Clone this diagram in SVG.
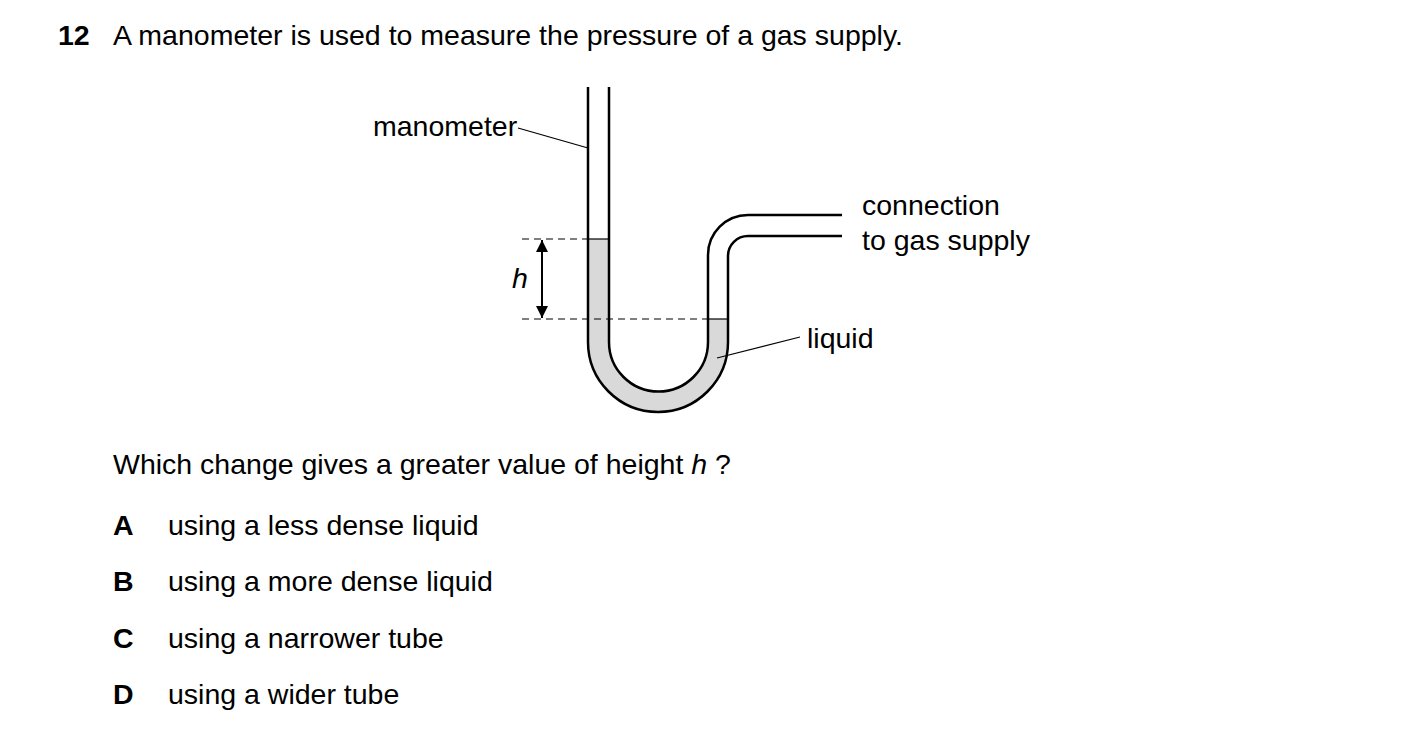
<svg xmlns="http://www.w3.org/2000/svg" width="1403" height="756" viewBox="0 0 1403 756">
<style>
text{font-family:"Liberation Sans",Arial,sans-serif;font-size:28.5px;fill:#000}
.lb{font-size:28.5px}
.b{font-weight:bold}
.t{fill:none;stroke:#000;stroke-width:2.5}
.th{fill:none;stroke:#000;stroke-width:1.2}
.d{fill:none;stroke:#000;stroke-width:1.2;stroke-dasharray:7,5}
</style>
<defs><marker id="ah" viewBox="0 0 10 10" refX="10" refY="5" markerWidth="16" markerHeight="12" orient="auto" markerUnits="userSpaceOnUse"><path d="M0,0L10,5L0,10z"/></marker></defs>
<rect width="1403" height="756" fill="#fff"/>
<text x="58" y="45" class="b">12</text>
<text x="113" y="45">A manometer is used to measure the pressure of a gas supply.</text>
<g id="manometer">
<path d="M588,239 L588,342 A70,70 0 0 0 728,342 L728,319 L708,319 L708,342 A49.5,49.5 0 0 1 609,342 L609,239 Z" fill="#d9d9d9"/>
<path class="t" d="M588,87 L588,342 A70,70 0 0 0 728,342 L728,256 A20,20 0 0 1 748,236 L842,236"/>
<path class="t" d="M609,87 L609,342 A49.5,49.5 0 0 0 708,342 L708,255 A40,40 0 0 1 748,215 L842,215"/>
<line class="th" x1="588" y1="239" x2="609" y2="239"/>
<line class="th" x1="708" y1="319" x2="728" y2="319"/>
</g>
<g id="connectors">
<line class="d" x1="522" y1="239" x2="588" y2="239"/>
<line class="d" x1="522" y1="319" x2="708" y2="319"/>
<line x1="542" y1="280" x2="542" y2="240" stroke="#000" stroke-width="2" marker-end="url(#ah)"/>
<line x1="542" y1="280" x2="542" y2="318" stroke="#000" stroke-width="2" marker-end="url(#ah)"/>
<line class="th" x1="518" y1="128" x2="588" y2="148"/>
<line class="th" x1="717" y1="358" x2="800" y2="337"/>
</g>
<g id="labels">
<text x="373" y="136" class="lb">manometer</text>
<text x="512" y="288" class="lb" font-style="italic">h</text>
<text x="862" y="215" class="lb">connection</text>
<text x="862" y="250" class="lb">to gas supply</text>
<text x="807" y="348" class="lb">liquid</text>
</g>
<text x="113" y="474">Which change gives a greater value of height <tspan font-style="italic">h</tspan> ?</text>
<text x="113" y="535" class="b">A</text><text x="168" y="535">using a less dense liquid</text>
<text x="113" y="591" class="b">B</text><text x="168" y="591">using a more dense liquid</text>
<text x="113" y="648" class="b">C</text><text x="168" y="648">using a narrower tube</text>
<text x="113" y="704" class="b">D</text><text x="168" y="704">using a wider tube</text>
</svg>
